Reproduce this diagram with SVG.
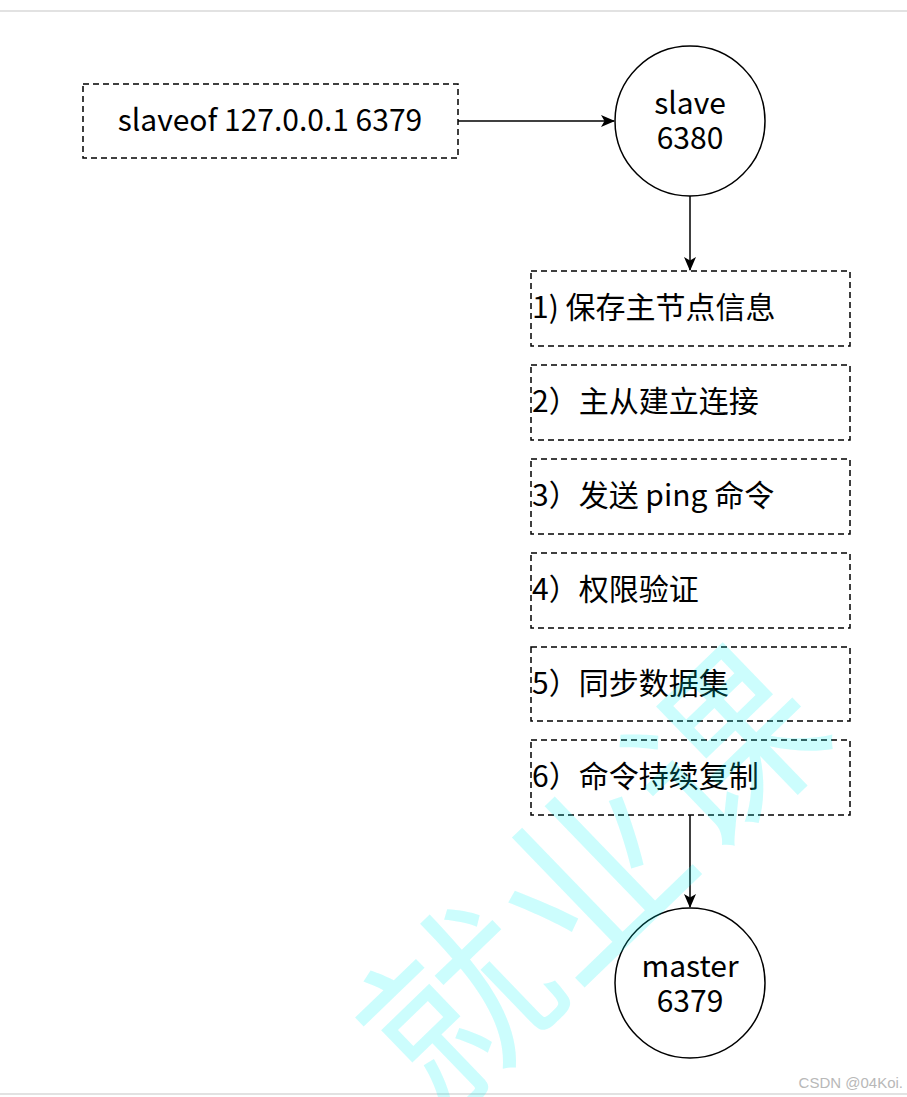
<svg xmlns="http://www.w3.org/2000/svg" width="907" height="1097" viewBox="0 0 907 1097">
<defs>
<style>
.box{fill:#fff;stroke:#000;stroke-width:1.5;stroke-dasharray:6 4}
.node{fill:#fff;stroke:#000;stroke-width:1.5}
.edge{fill:none;stroke:#000;stroke-width:1.5}
.t{font-family:"Noto Sans CJK SC","Noto Sans",sans-serif;font-size:30px;fill:#000}
.c{text-anchor:middle}
.wm{font-family:"Noto Sans CJK SC",sans-serif;font-size:185px;fill:#00f4f4;fill-opacity:0.2}
</style>
<marker id="arr" viewBox="0 0 14 12" refX="13" refY="6" markerWidth="14" markerHeight="12" markerUnits="userSpaceOnUse" orient="auto">
<path d="M0,0 L14,6 L0,12 L3.5,6 Z" fill="#000"/>
</marker>
</defs>
<rect width="907" height="1097" fill="#fff"/>
<line x1="0" y1="11" x2="907" y2="11" stroke="#e2e2e2" stroke-width="2"/>
<line x1="0" y1="1094" x2="907" y2="1094" stroke="#e2e2e2" stroke-width="2"/>

<g id="edges">
<line class="edge" x1="458" y1="121" x2="614" y2="121" marker-end="url(#arr)"/>
<line class="edge" x1="690" y1="196" x2="690" y2="270" marker-end="url(#arr)"/>
<line class="edge" x1="690" y1="815" x2="690" y2="907" marker-end="url(#arr)"/>
</g>

<g id="cmd">
<rect class="box" x="83" y="84" width="375" height="74"/>
<text class="t c" x="270" y="131">slaveof 127.0.0.1 6379</text>
</g>
<g id="slave">
<circle class="node" cx="690" cy="121" r="75"/>
<text class="t c" x="690" y="114">slave<tspan x="690" dy="35">6380</tspan></text>
</g>
<g id="step1">
<rect class="box" x="531" y="271" width="319" height="75"/>
<text class="t" x="532" y="318">1) 保存主节点信息</text>
</g>
<g id="step2">
<rect class="box" x="531" y="365" width="319" height="75"/>
<text class="t" x="532" y="412">2）主从建立连接</text>
</g>
<g id="step3">
<rect class="box" x="531" y="459" width="319" height="75"/>
<text class="t" x="532" y="506">3）发送 ping 命令</text>
</g>
<g id="step4">
<rect class="box" x="531" y="553" width="319" height="75"/>
<text class="t" x="532" y="600">4）权限验证</text>
</g>
<g id="step5">
<rect class="box" x="531" y="647" width="319" height="74"/>
<text class="t" x="532" y="694">5）同步数据集</text>
</g>
<g id="step6">
<rect class="box" x="531" y="740" width="319" height="75"/>
<text class="t" x="532" y="787">6）命令持续复制</text>
</g>
<g id="master">
<circle class="node" cx="690" cy="983" r="75"/>
<text class="t c" x="690" y="977">master<tspan x="690" dy="35">6379</tspan></text>
</g>

<text class="wm" transform="translate(440,1120) rotate(-44)">就业课</text>
<text x="903" y="1088" text-anchor="end" font-family="Liberation Sans, sans-serif" font-size="15" fill="#b8b8b8">CSDN @04Koi.</text>
</svg>
